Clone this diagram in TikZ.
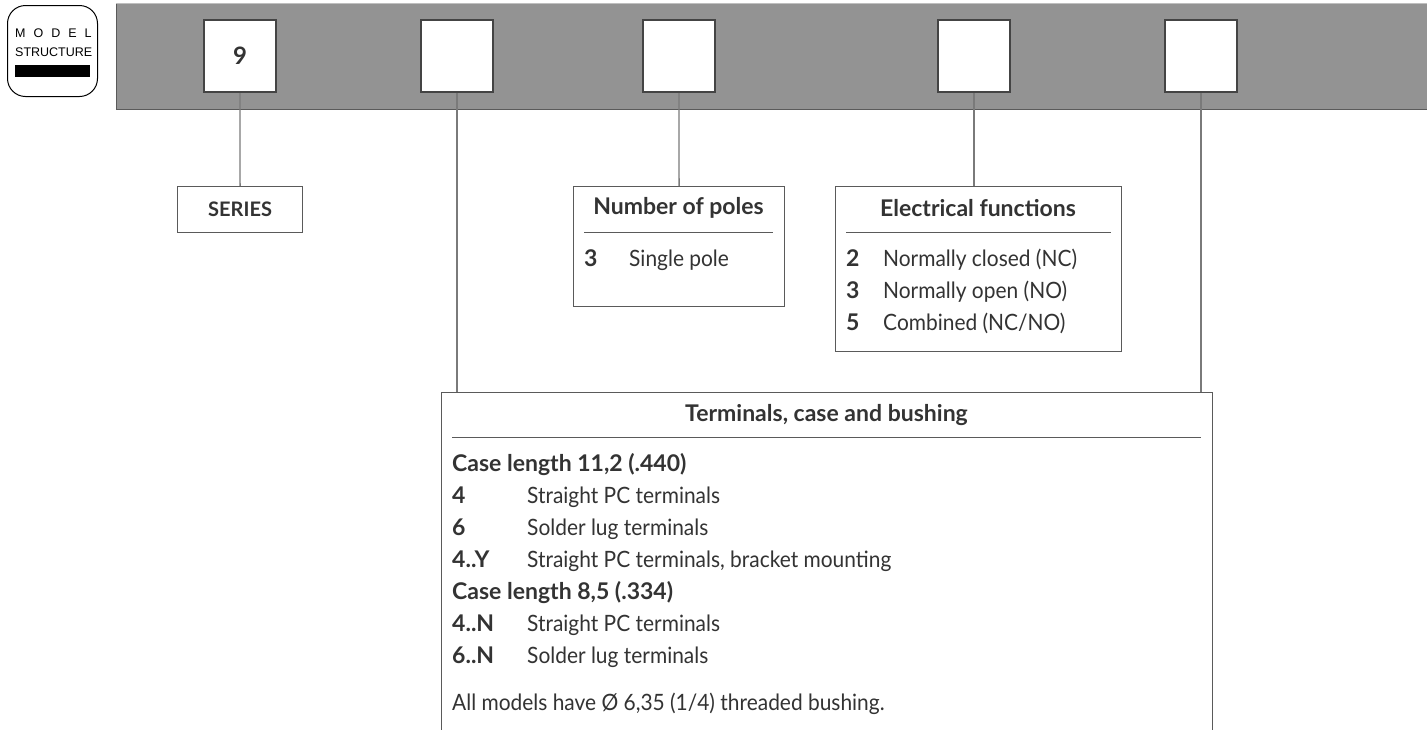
\documentclass[tikz,border=0pt]{standalone}
\usepackage{fontspec}
\setmainfont{Lato}
\newfontfamily\bodyfam[FakeStretch=0.93]{Lato}
\newfontfamily\arialf{Liberation Sans}
\definecolor{bandgray}{HTML}{939393}
\definecolor{boxdark}{HTML}{444444}
\definecolor{linegray}{HTML}{5A5A5A}
\definecolor{conngray}{HTML}{7A7A7A}
\definecolor{txt}{HTML}{333333}
\newcommand\myBody{\bodyfam\fontsize{22.5}{26}\selectfont}
\newcommand\myHdr{\fontsize{23}{26}\selectfont\bfseries}
\newcommand\myCode{\fontsize{23}{26}\selectfont\bfseries}
\tikzset{
  topbox/.style={draw=boxdark, line width=2pt, fill=white, minimum width=72pt, minimum height=72pt, inner sep=0pt},
  infobox/.style={draw=linegray, line width=1.2pt, fill=white, inner sep=0pt, anchor=north west},
  conn/.style={draw=conngray, line width=1.3pt},
  rulel/.style={draw=linegray, line width=1pt},
  hdr/.style={font=\myHdr, text=txt, anchor=base, inner sep=0pt},
  code/.style={font=\myCode, text=txt, anchor=base west, inner sep=0pt},
  desc/.style={font=\myBody, text=txt, anchor=base west, inner sep=0pt},
  badgetxt/.style={font=\arialf\fontsize{12.5}{12.5}\selectfont, text=black, anchor=base west, inner sep=0pt},
}
\begin{document}
\begin{tikzpicture}[x=1pt,y=-1pt]
\useasboundingbox (0,0) rectangle (1427,729);
\clip (0,0) rectangle (1427,729);
% badge
\node[draw=black, line width=1pt, rounded corners=18pt, minimum width=90pt, minimum height=91pt, inner sep=0pt] (badge) at (52.5,51) {};
\node[badgetxt] (bm) at (15,37) {M\kern8pt O\kern8pt D\kern8pt E\kern8pt L};
\node[badgetxt] (bs) at (15,56) {STRUCTURE};
\node[fill=black, minimum width=75pt, minimum height=12pt, inner sep=0pt] (bar) at (52.5,71) {};
% band
\fill[bandgray] (116,3.5) rectangle (1430,109);
\draw[linegray, line width=1pt] (1430,109) -- (116,109) -- (116,3.5);
\draw[black!25, line width=1pt] (116,3.5) -- (1430,3.5);
% top boxes
\node[topbox, font=\fontsize{24}{24}\selectfont\bfseries, text=txt] (b1) at (240,56) {9};
\node[topbox] (b2) at (457,56) {};
\node[topbox] (b3) at (679,56) {};
\node[topbox] (b4) at (974,56) {};
\node[topbox] (b5) at (1201,56) {};
% info boxes
\node[infobox, minimum width=125pt, minimum height=46pt, font=\fontsize{20}{20}\selectfont\bfseries, text=txt] (series) at (177,186) {SERIES};
\node[infobox, minimum width=211pt, minimum height=120pt] (poles) at (573,186) {};
\node[infobox, minimum width=286pt, minimum height=165pt] (elec) at (835,186) {};
\node[infobox, minimum width=771pt, minimum height=360pt] (term) at (441,392) {};
% connectors
\draw[conn] (b1.south) -- (series.north);
\draw[conn] (b3.south) -- (poles.north);
\draw[conn] (b4.south) -- (b4.south |- elec.north);
\draw[conn] (b2.south) -- (b2.south |- term.north);
\draw[conn] (b5.south) -- (b5.south |- term.north);
% poles content
\node[hdr] (ph) at (678.5,214) {Number of poles};
\coordinate (pr1) at (584,232); \coordinate (pr2) at (773,232);
\draw[rulel] (pr1) -- (pr2);
\node[code] (p3c) at (584,266.5) {3};
\node[desc] (p3d) at (629,266.5) {Single pole};
% electrical content
\node[hdr] (eh) at (978,216) {Electrical functions};
\coordinate (er1) at (846,232); \coordinate (er2) at (1111,232);
\draw[rulel] (er1) -- (er2);
\node[code] (e2c) at (846,266.5) {2};
\node[desc] (e2d) at (883,266.5) {Normally closed (NC)};
\node[code] (e3c) at (846,298.5) {3};
\node[desc] (e3d) at (883,298.5) {Normally open (NO)};
\node[code] (e5c) at (846,330.5) {5};
\node[desc] (e5d) at (883,330.5) {Combined (NC/NO)};
% terminals content
\node[hdr] (th) at (826.5,421) {Terminals, case and bushing};
\coordinate (tr1) at (452,437); \coordinate (tr2) at (1201,437);
\draw[rulel] (tr1) -- (tr2);
\node[code] (tc1) at (452,471.5) {Case length 11,2 (.440)};
\node[code] (t4c) at (452,503.5) {4};
\node[desc] (t4d) at (527,503.5) {Straight PC terminals};
\node[code] (t6c) at (452,535.5) {6};
\node[desc] (t6d) at (527,535.5) {Solder lug terminals};
\node[code] (t4yc) at (452,567.5) {4..Y};
\node[desc] (t4yd) at (527,567.5) {Straight PC terminals, bracket mounting};
\node[code] (tc2) at (452,599.5) {Case length 8,5 (.334)};
\node[code] (t4nc) at (452,631.5) {4..N};
\node[desc] (t4nd) at (527,631.5) {Straight PC terminals};
\node[code] (t6nc) at (452,663.5) {6..N};
\node[desc] (t6nd) at (527,663.5) {Solder lug terminals};
\node[desc] (tall) at (452,710.5) {All models have Ø 6,35 (1/4) threaded bushing.};
\end{tikzpicture}
\end{document}
